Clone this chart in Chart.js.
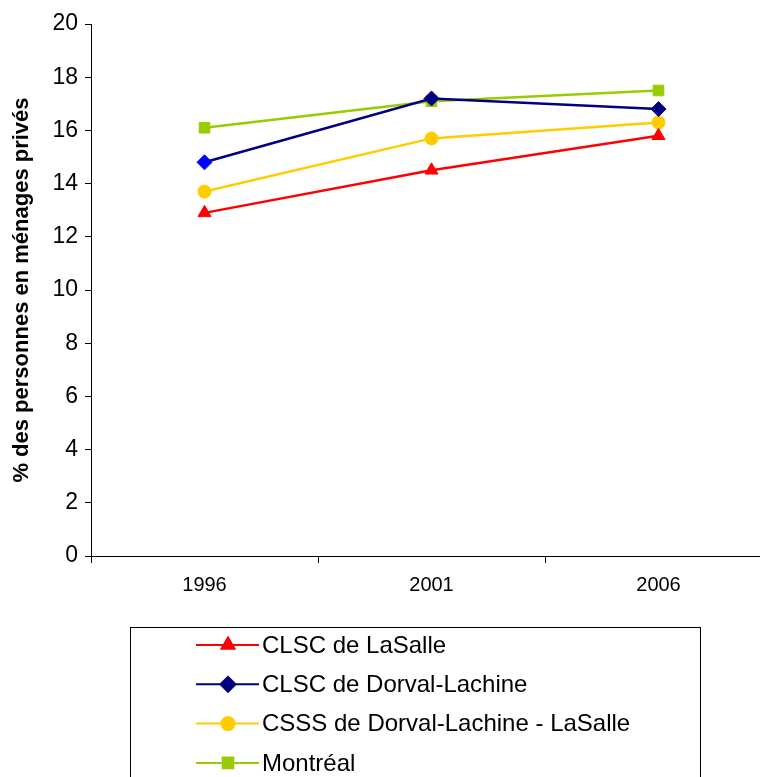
<!DOCTYPE html>
<html>
<head>
<meta charset="utf-8">
<script src="https://cdn.jsdelivr.net/npm/chart.js@4"></script>
<style>
  html, body { margin: 0; padding: 0; background: #fff; overflow: hidden; }
  #wrap { width: 790px; height: 777px; }
</style>
</head>
<body>
<div id="wrap"><canvas id="chart" width="790" height="777"></canvas></div>
<script>
// données
const years = ['1996', '2001', '2006'];
const laSalle = [12.9, 14.5, 15.8];
const dorvalLachine = [14.8, 17.2, 16.8];
const csss = [13.7, 15.7, 16.3];
const montreal = [16.1, 17.1, 17.5];
const yTicks = [0, 2, 4, 6, 8, 10, 12, 14, 16, 18, 20];

const FONT = '"Liberation Sans", Arial, sans-serif';

// légende encadrée dessinée sous le graphique
const boxLegend = {
    id: 'boxLegend',
    afterDraw(chart) {
        const ctx = chart.ctx;
        ctx.save();
        ctx.strokeStyle = '#000';
        ctx.lineWidth = 1;
        ctx.strokeRect(130.5, 627.5, 570, 170);
        chart.data.datasets.forEach((ds, i) => {
            const y = 645 + i * 39.3;
            ctx.strokeStyle = ds.borderColor;
            ctx.lineWidth = 2;
            ctx.beginPath();
            ctx.moveTo(196, y);
            ctx.lineTo(259, y);
            ctx.stroke();
            ctx.fillStyle = ds.borderColor;
            ctx.strokeStyle = ds.borderColor;
            Chart.helpers.drawPoint(ctx, {
                pointStyle: ds.pointStyle,
                radius: ds.pointRadius,
                borderWidth: 1
            }, 228, y);
            ctx.fillStyle = '#000';
            ctx.font = '24px ' + FONT;
            ctx.textBaseline = 'middle';
            ctx.textAlign = 'left';
            ctx.fillText(ds.label, 262, y + 1);
        });
        ctx.restore();
    }
};

new Chart(document.getElementById('chart'), {
    type: 'line',
    data: {
        labels: years,
        datasets: [{
            label: 'CLSC de LaSalle',
            data: laSalle,
            borderColor: '#FF0000',
            backgroundColor: '#FF0000',
            pointStyle: 'triangle',
            pointRadius: 7.5
        }, {
            label: 'CLSC de Dorval-Lachine',
            data: dorvalLachine,
            borderColor: '#000080',
            backgroundColor: ['#0000FF', '#000080', '#000080'],
            pointBorderColor: ['#0000FF', '#000080', '#000080'],
            pointStyle: 'rectRot',
            pointRadius: 7.5
        }, {
            label: 'CSSS de Dorval-Lachine - LaSalle',
            data: csss,
            borderColor: '#FFCC00',
            backgroundColor: '#FFCC00',
            pointStyle: 'circle',
            pointRadius: 6.5
        }, {
            label: 'Montréal',
            data: montreal,
            borderColor: '#99CC00',
            backgroundColor: '#99CC00',
            pointStyle: 'rect',
            pointRadius: 7.5
        }]
    },
    options: {
        responsive: false,
        animation: false,
        layout: { padding: { top: 24, right: 18, left: 0, bottom: 0 } },
        elements: {
            line: { borderWidth: 2.5, tension: 0 },
            point: { borderWidth: 1 }
        },
        plugins: {
            legend: { display: false },
            tooltip: { enabled: false }
        },
        scales: {
            x: {
                offset: true,
                grid: {
                    offset: true,
                    drawOnChartArea: false,
                    tickLength: 7,
                    color: '#000'
                },
                border: { color: '#000', width: 1 },
                ticks: {
                    color: '#000',
                    font: { family: FONT, size: 20 },
                    padding: 10
                },
                afterFit(s) { s.height = 221; }
            },
            y: {
                min: 0,
                max: 20,
                afterBuildTicks(s) { s.ticks = yTicks.map(v => ({ value: v })); },
                grid: {
                    drawOnChartArea: false,
                    tickLength: 6,
                    color: '#000'
                },
                border: { color: '#000', width: 1 },
                ticks: {
                    color: '#000',
                    font: { family: FONT, size: 23 },
                    padding: 7
                },
                title: {
                    display: true,
                    text: '% des personnes en ménages privés',
                    color: '#000',
                    font: { family: FONT, size: 22, weight: 'bold' },
                    padding: { top: 9, bottom: 2 }
                },
                afterFit(s) { s.width = 91; }
            }
        }
    },
    plugins: [boxLegend]
});
</script>
</body>
</html>
